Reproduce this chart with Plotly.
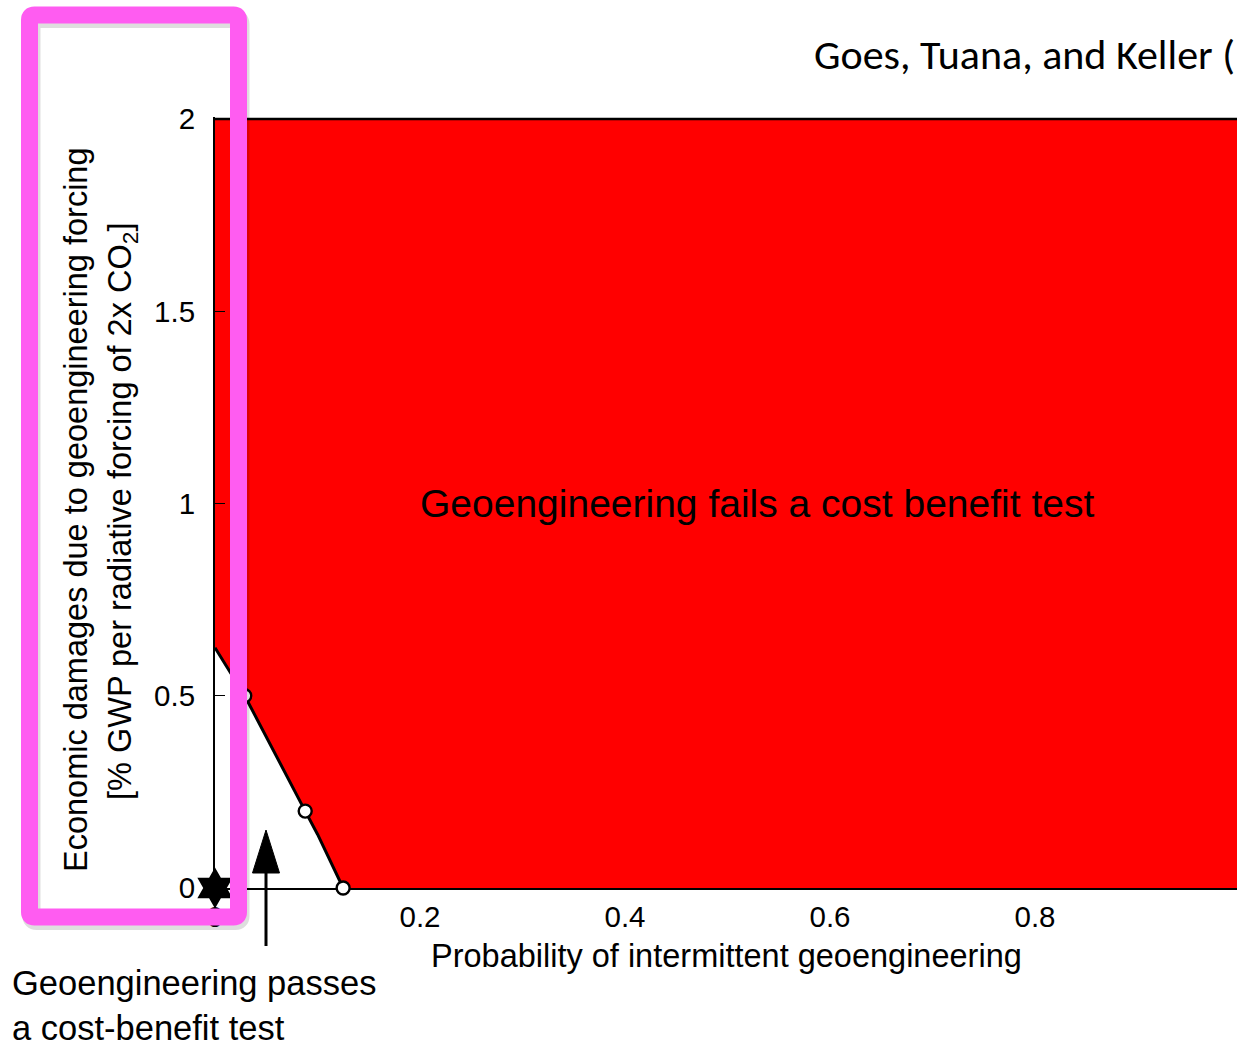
import plotly.graph_objects as go

# ---------------- data ----------------
boundary_x = [0.0, 0.029, 0.088, 0.100, 0.125]
boundary_y = [0.625, 0.50, 0.20, 0.14, 0.0]
marker_x = [0.029, 0.088, 0.125]
marker_y = [0.50, 0.20, 0.0]
star_x = [0.0]
star_y = [0.0]
x_ticks = [0, 0.2, 0.4, 0.6, 0.8, 1]
x_ticktext = ["0", "0.2", "0.4", "0.6", "0.8", "1"]
y_ticks = [0, 0.5, 1, 1.5, 2]
y_ticktext = ["0", "0.5", "1", "1.5", "2"]
x_max = 1.0
y_max = 2.0

# ---------------- layout geometry (pixels) ----------------
WIDTH, HEIGHT = 1237, 1041
L, R = 215, 0
T, B = 117, 153
PW = WIDTH - L - R
PH = HEIGHT - T - B
x_range = [0, PW / 1025.0]
y_range = [0, 2.0 * PH / (888 - 119)]


def px(xp):
    return (xp - L) / PW


def py(yp):
    return (T + PH - yp) / PH


FONT = "Liberation Sans, Arial, Helvetica, sans-serif"

fig = go.Figure()

# red "fails" region
fill_x = [0.0] + boundary_x + [x_max, x_max, 0.0]
fill_y = [y_max] + boundary_y + [0.0, y_max, y_max]
fig.add_trace(go.Scatter(x=fill_x, y=fill_y, mode="lines", fill="toself",
                         fillcolor="#FF0000", line=dict(width=0),
                         hoverinfo="skip", showlegend=False))
# top border
fig.add_trace(go.Scatter(x=[0.0, x_max], y=[y_max, y_max], mode="lines",
                         line=dict(color="black", width=2.5),
                         hoverinfo="skip", showlegend=False))
# boundary curve
fig.add_trace(go.Scatter(x=boundary_x, y=boundary_y, mode="lines",
                         line=dict(color="black", width=3),
                         showlegend=False, cliponaxis=False))
# open circle markers
fig.add_trace(go.Scatter(x=marker_x, y=marker_y, mode="markers",
                         marker=dict(symbol="circle", size=13, color="white",
                                     line=dict(color="black", width=2.4)),
                         showlegend=False, cliponaxis=False))
# star at origin
fig.add_trace(go.Scatter(x=star_x, y=star_y, mode="markers",
                         marker=dict(symbol="hexagram", size=31, color="black",
                                     line=dict(width=0)),
                         showlegend=False, cliponaxis=False))

shapes = []
# arrow
tip_x, tip_y = 266, 830
head_base, head_half, tail_y = 873, 13.5, 946
shapes.append(dict(type="line", xref="paper", yref="paper",
                   x0=px(tip_x), x1=px(tip_x), y0=py(head_base - 2), y1=py(tail_y),
                   line=dict(color="black", width=3)))
shapes.append(dict(type="path", xref="paper", yref="paper",
                   path=f"M {px(tip_x - head_half)},{py(head_base)} L {px(tip_x)},{py(tip_y)} "
                        f"L {px(tip_x + head_half)},{py(head_base)} Z",
                   fillcolor="black", line=dict(color="black", width=1)))


def rrect(x0, y0, x1, y1, r):
    return (f"M {px(x0 + r)},{py(y0)} L {px(x1 - r)},{py(y0)} "
            f"Q {px(x1)},{py(y0)} {px(x1)},{py(y0 + r)} "
            f"L {px(x1)},{py(y1 - r)} Q {px(x1)},{py(y1)} {px(x1 - r)},{py(y1)} "
            f"L {px(x0 + r)},{py(y1)} Q {px(x0)},{py(y1)} {px(x0)},{py(y1 - r)} "
            f"L {px(x0)},{py(y0 + r)} Q {px(x0)},{py(y0)} {px(x0 + r)},{py(y0)} Z")


# shadow of highlight box
shapes.append(dict(type="path", xref="paper", yref="paper",
                   path=rrect(31.5, 19, 240.5, 921, 5),
                   line=dict(color="rgba(0,0,0,0.13)", width=18)))
# pink highlight box
shapes.append(dict(type="path", xref="paper", yref="paper",
                   path=rrect(29.5, 15, 238.5, 917, 5),
                   line=dict(color="#FF5CF1", width=17)))

annotations = [
    dict(text="Geoengineering fails a cost benefit test", x=0.529, y=1.0,
         xref="x", yref="y", showarrow=False,
         font=dict(family=FONT, size=39, color="black")),
    dict(text="Probability of intermittent geoengineering", x=px(726), y=py(956),
         xref="paper", yref="paper", showarrow=False, yanchor="middle",
         font=dict(family=FONT, size=32.5, color="black")),
    dict(text="Economic damages due to geoengineering forcing", x=px(76), y=py(510),
         xref="paper", yref="paper", showarrow=False, textangle=-90,
         xanchor="center", yanchor="middle",
         font=dict(family=FONT, size=32.5, color="black")),
    dict(text="[% GWP per radiative forcing of 2x CO<sub>2</sub>]", x=px(123), y=py(512),
         xref="paper", yref="paper", showarrow=False, textangle=-90,
         xanchor="center", yanchor="middle",
         font=dict(family=FONT, size=32.5, color="black")),
    dict(text="Geoengineering passes<br>a cost-benefit test", x=px(10), y=py(1006),
         xref="paper", yref="paper", showarrow=False, xanchor="left", yanchor="middle",
         align="left", font=dict(family=FONT, size=34.5, color="black")),
    dict(text="Goes, Tuana, and Keller (", x=px(812), y=py(54),
         xref="paper", yref="paper", showarrow=False, xanchor="left", yanchor="middle",
         font=dict(family="Carlito, Lato, Calibri, sans-serif", size=42, color="black")),
]

fig.update_layout(
    width=WIDTH, height=HEIGHT,
    margin=dict(l=L, r=R, t=T, b=B, pad=0),
    paper_bgcolor="white", plot_bgcolor="white",
    showlegend=False,
    shapes=shapes, annotations=annotations,
    font=dict(family=FONT, color="black"),
)
fig.update_xaxes(range=x_range, tickvals=x_ticks, ticktext=x_ticktext,
                 showgrid=False, zeroline=False, showline=True, linecolor="black",
                 linewidth=1.5, ticks="inside", ticklen=10, tickcolor="black",
                 tickfont=dict(family=FONT, size=29.5, color="black"),
                 ticklabelstandoff=2, layer="below traces")
fig.update_yaxes(range=y_range, tickvals=y_ticks, ticktext=y_ticktext,
                 showgrid=False, zeroline=False, showline=True, linecolor="black",
                 linewidth=2, ticks="inside", ticklen=10, tickcolor="black",
                 tickfont=dict(family=FONT, size=29.5, color="black"),
                 ticklabelstandoff=12, layer="above traces")

fig.write_html("out.html", config={"displayModeBar": False},
               post_script="document.body.style.margin='0';document.body.style.overflow='hidden';")
